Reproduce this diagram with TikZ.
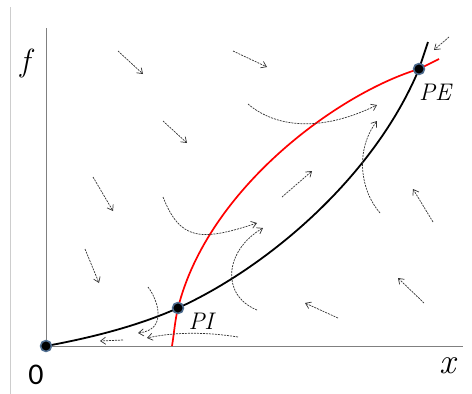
\documentclass[tikz,border=0pt]{standalone}
\usepackage{amsmath}
\usepackage{fontspec}
\newfontfamily\digitfont{Carlito}
\usepackage{tikz}
\usetikzlibrary{arrows.meta,positioning}

\definecolor{axisgray}{RGB}{128,128,128}
\definecolor{framegray}{RGB}{205,205,205}
\definecolor{dotrim}{RGB}{80,110,145}
\definecolor{flowgray}{RGB}{50,50,50}

\begin{document}
\begin{tikzpicture}[x=1pt,y=-1pt,>={Straight Barb[length=5pt,width=7pt]},line join=round]
\tikzstyle{axis} = [draw=axisgray, line width=0.9pt]
\tikzstyle{flow} = [draw=flowgray, line width=0.7pt, dash pattern=on 2pt off 1pt, ->]
\tikzstyle{point} = [shape=circle, fill=black, draw=dotrim, line width=1.6pt, minimum size=11pt, inner sep=0pt]
\tikzstyle{lbl} = [inner sep=0pt, font=\itshape\fontsize{24}{28}\selectfont]
\useasboundingbox (0,0) rectangle (472,394);

% Frame and axes
\draw[framegray, line width=0.8pt] (10,7) -- (10,394);
\coordinate (ytop) at (46,28);
\coordinate (xend) at (463,346);
\coordinate (orig) at (46,346);
\draw[axis] (ytop) -- (orig) -- (xend);
\node[inner sep=0pt, font=\itshape\fontsize{32}{36}\selectfont] (flabel) at (25,63) {f};
\node[inner sep=0pt, font=\itshape\fontsize{36}{40}\selectfont] (xlabel) at (448,366) {x};
\node[inner sep=0pt, font=\digitfont\fontsize{30}{34}\selectfont] (zero) at (36,375) {0};

% Points
\coordinate (pi) at (178,308);
\coordinate (pe) at (419,69);

% Curves
\draw[black, line width=1.8pt] (orig) .. controls (90,338) and (138,326) .. (pi)
  .. controls (268,267) and (374,177) .. (pe) .. controls (423,57) .. (428,42);
\draw[red, line width=1.7pt] (172,346) .. controls (174,334) and (175,320) .. (pi)
  .. controls (208,188) and (339,93) .. (pe) -- (439,59);

% Flow field
\draw[flow] (118,51) -- (143,74);
\draw[flow] (163,121) -- (187,143);
\draw[flow] (233,51) -- (267,67);
\draw[flow] (449,37) -- (434,50);
\draw[flow] (282,197) -- (312,171);
\draw[flow] (433,222) -- (413,189);
\draw[flow] (424,303) -- (398,278);
\draw[flow] (338,318) -- (305,303);
\draw[flow] (93,177) -- (113,211);
\draw[flow] (85,249) -- (99,283);
\draw[flow] (123,340) -- (100,341);
\draw[flow] (248,104) .. controls (275,127) and (320,133) .. (377,105);
\draw[flow] (380,213) .. controls (360,190) and (355,150) .. (377,121);
\draw[flow] (163,197) .. controls (180,240) and (200,242) .. (257,223);
\draw[flow] (257,310) .. controls (220,295) and (225,250) .. (263,228);
\draw[flow] (148,287) .. controls (158,300) and (168,330) .. (138,333);
\draw[flow] (238,337) .. controls (200,331) and (170,333) .. (147,338);

% Dots and labels
\node[point] (O) at (orig) {};
\node[point] (PI) at (pi) {};
\node[point] (PE) at (pe) {};
\node[lbl] (PIlabel) at (201,321) {PI};
\node[lbl] (PElabel) at (435,92) {PE};
\end{tikzpicture}
\end{document}
